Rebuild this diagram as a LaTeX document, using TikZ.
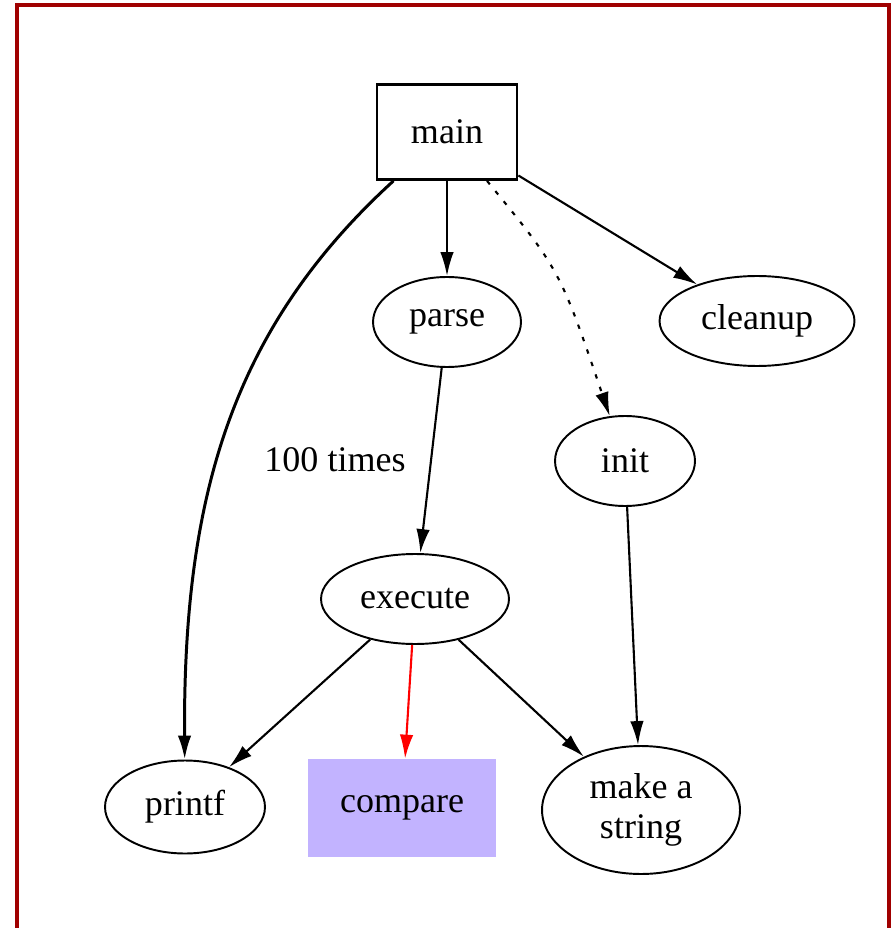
\documentclass[tikz,border=0pt]{standalone}
\usepackage{fontspec}
\setmainfont{Liberation Serif}
\usepackage{tikz}
\usetikzlibrary{shapes,arrows.meta,positioning}
\usepackage{xcolor}

\definecolor{framered}{RGB}{160,0,0}
\definecolor{cmpblue}{RGB}{194,179,255}

\begin{document}
\begin{tikzpicture}[x=0.02cm, y=-0.02cm,
    font=\fontsize{20.5}{22.7}\selectfont,
    box/.style={draw, rectangle, line width=1.6pt, inner sep=0pt},
    oval/.style={draw, ellipse, line width=1.1pt, inner sep=0pt, minimum height=1.8cm},
    edge/.style={-{Latex[length=0.48cm,width=0.27cm]}, line width=1.2pt}]
    \useasboundingbox (0,0) rectangle (893,928);

    % Frame
    \draw[framered, line width=0.07cm] (17,5) rectangle (889,960);

    % Top
    \node[box, minimum width=2.8cm, minimum height=1.9cm] (main) at (447,132) {main};

    % Second row
    \node[oval, minimum width=2.96cm] (parse) at (447,322) {parse};
    \node[oval, minimum width=3.9cm] (cleanup) at (757,321) {cleanup};

    % Middle
    \node[oval, minimum width=2.8cm] (init) at (625,461) {init};
    \node[oval, minimum width=3.76cm] (execute) at (415,599) {execute};

    % Bottom row
    \node[oval, minimum width=3.2cm, minimum height=1.86cm] (printf) at (185,807) {printf};
    \node[rectangle, fill=cmpblue, minimum width=3.78cm, minimum height=1.96cm] (compare) at (402,808) {compare};
    \node[oval, align=center, minimum width=3.96cm, minimum height=2.56cm] (string) at (641,810) {make a\\string};

    % Edges
    \draw[edge] (main) -- (parse);
    \draw[edge, dash pattern=on 2.5pt off 5pt] (main) .. controls (560,270) .. (init);
    \draw[edge] (main) -- (cleanup);
    \draw[edge, line width=1.7pt] (main) .. controls (230,330) and (183,500) .. (printf);
    \node (times) at (335,460) {100 times};

    \draw[edge] (parse) -- (execute);
    \draw[edge] (init) -- (string);
    \draw[edge] (execute) -- (printf);
    \draw[edge, red] (execute) -- (compare);
    \draw[edge] (execute) -- (string);
\end{tikzpicture}
\end{document}
